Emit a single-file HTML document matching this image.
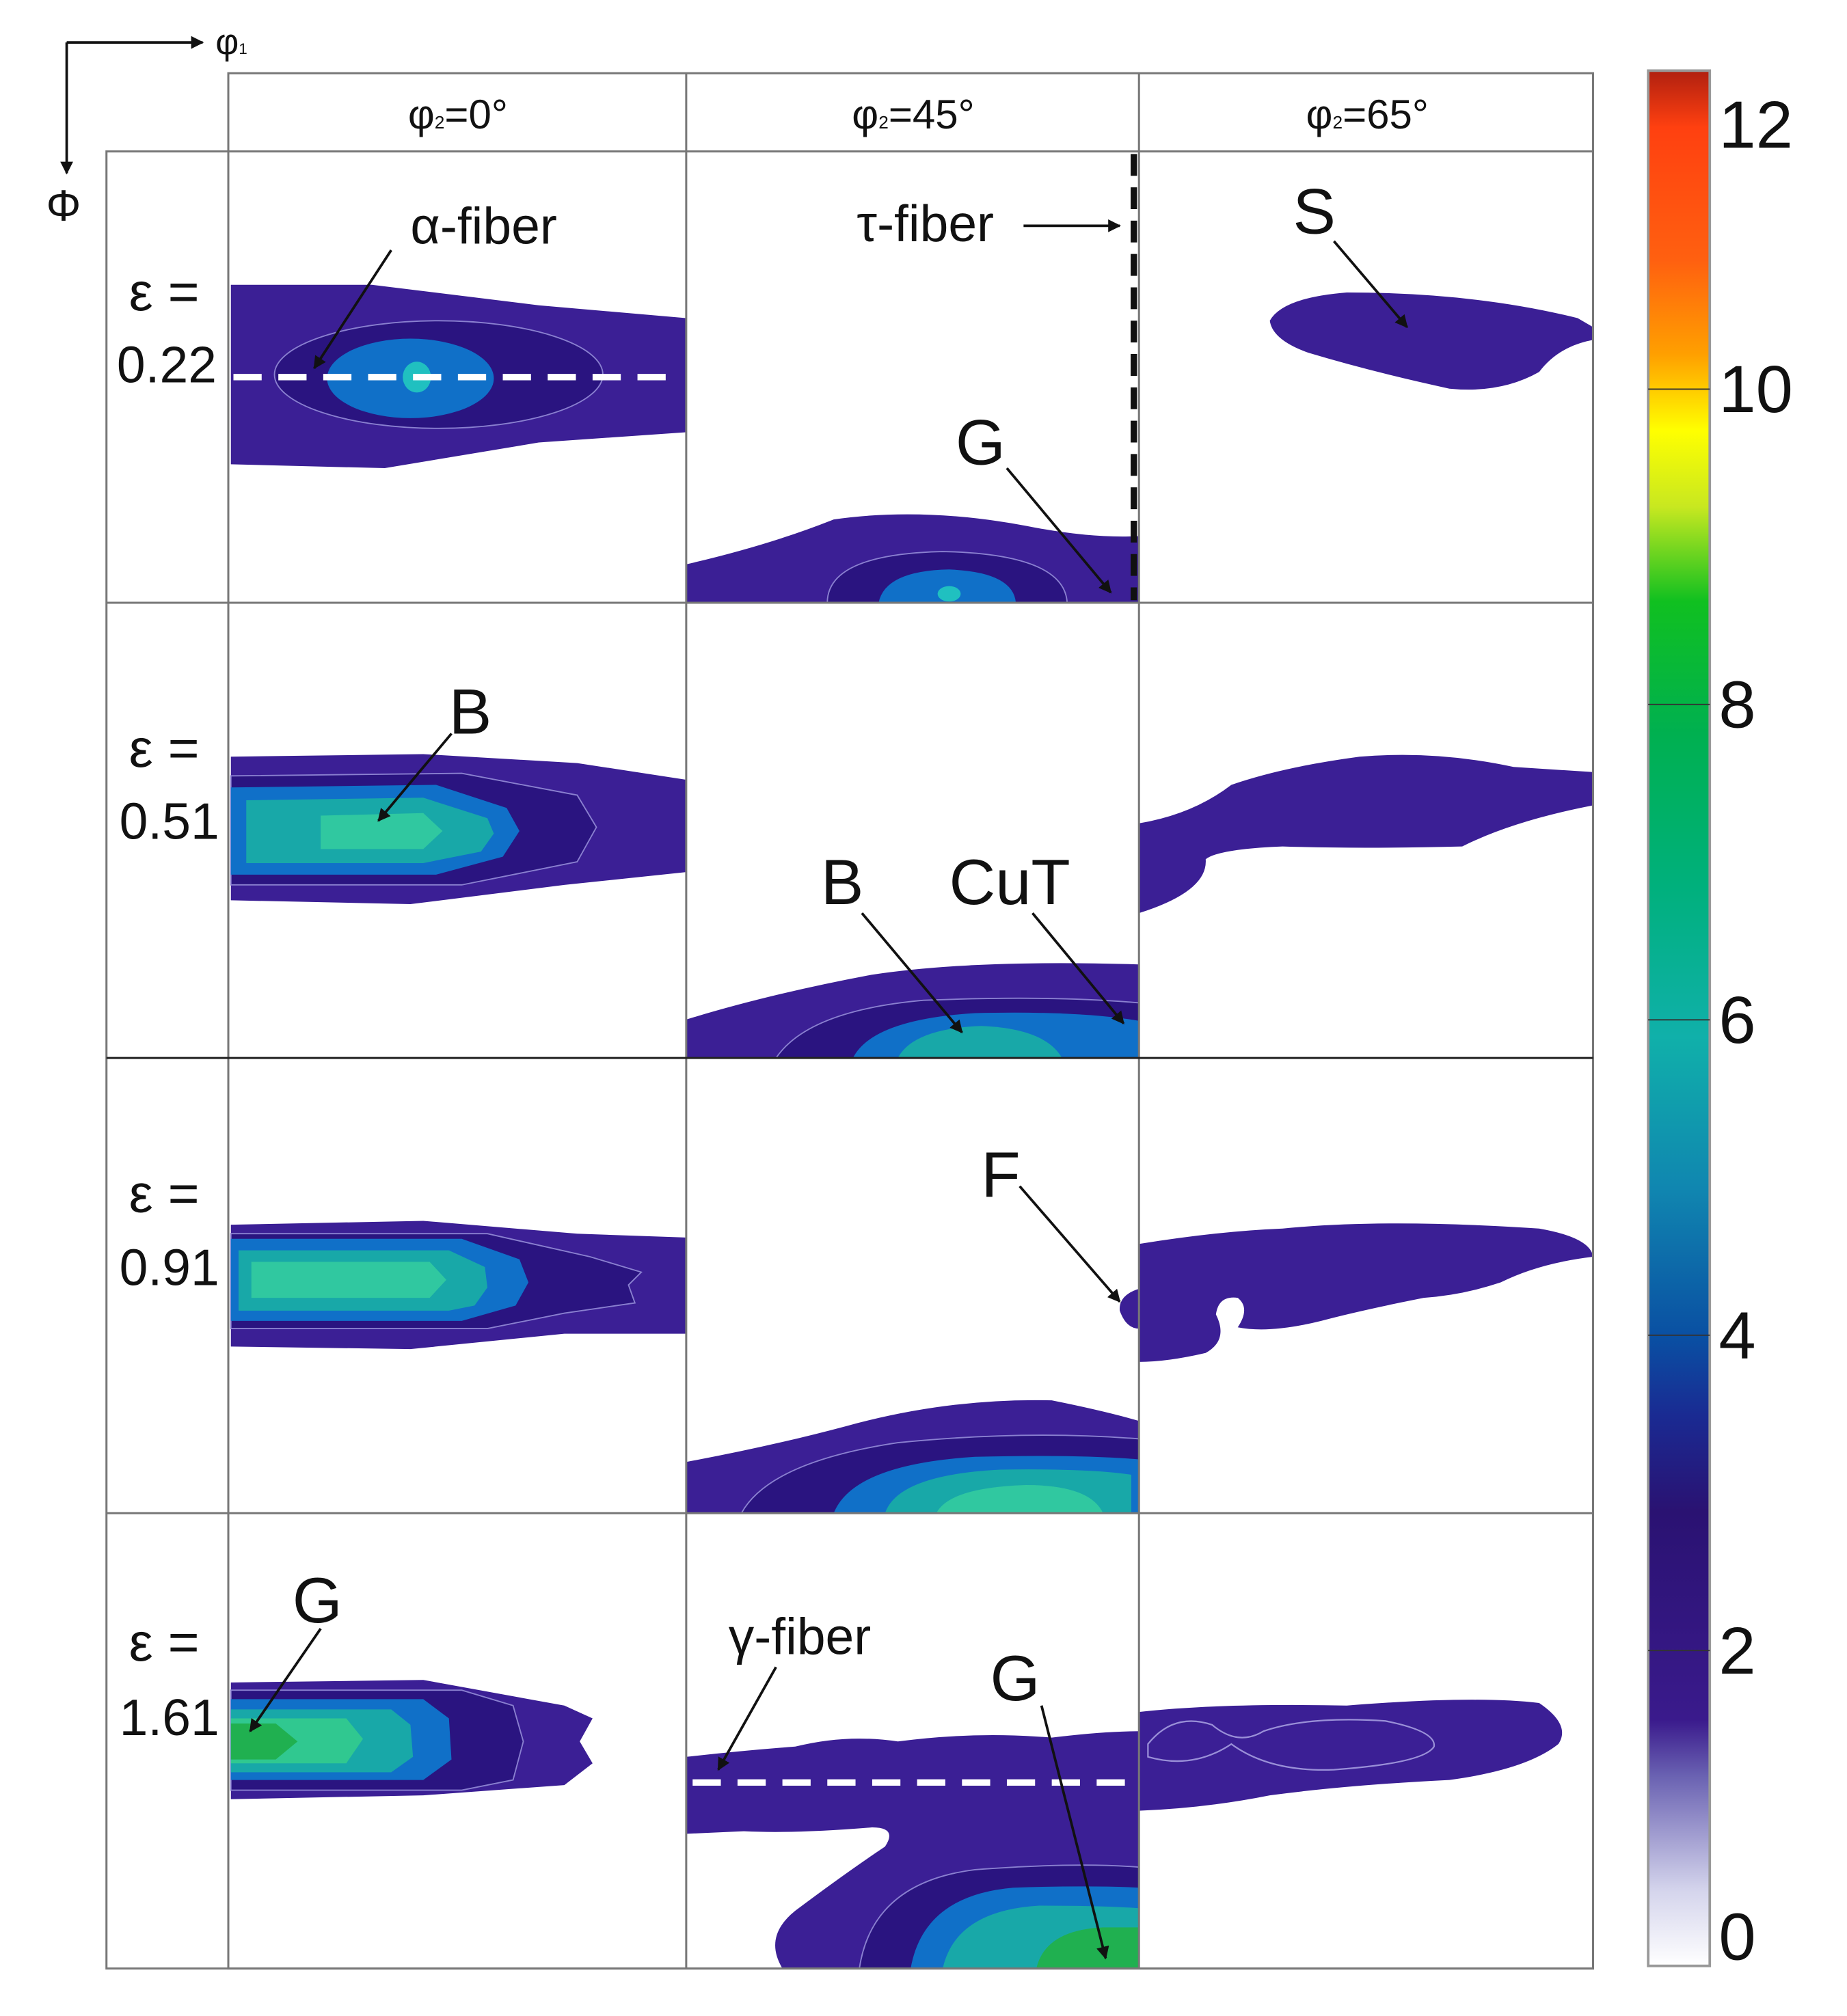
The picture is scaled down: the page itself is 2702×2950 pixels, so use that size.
<!DOCTYPE html>
<html><head><meta charset="utf-8"><style>
html,body{margin:0;padding:0;background:#fff}
svg{display:block}
text{font-family:"Liberation Sans",sans-serif;fill:#111}
</style></head><body>
<svg width="2702" height="2950" viewBox="0 0 1440 1572" xmlns="http://www.w3.org/2000/svg">
<defs>
<linearGradient id="cb" x1="0" y1="1" x2="0" y2="0">
<stop offset="0" stop-color="#ffffff"/>
<stop offset="0.04" stop-color="#d4d4ec"/>
<stop offset="0.1" stop-color="#6a62b2"/>
<stop offset="0.13" stop-color="#3a1a8c"/>
<stop offset="0.24" stop-color="#2a1272"/>
<stop offset="0.29" stop-color="#1a2a92"/>
<stop offset="0.33" stop-color="#0a4ea2"/>
<stop offset="0.41" stop-color="#1086b0"/>
<stop offset="0.49" stop-color="#10b0aa"/>
<stop offset="0.57" stop-color="#00b07c"/>
<stop offset="0.65" stop-color="#00b050"/>
<stop offset="0.72" stop-color="#10c020"/>
<stop offset="0.77" stop-color="#c8e820"/>
<stop offset="0.81" stop-color="#ffff00"/>
<stop offset="0.85" stop-color="#ffa000"/>
<stop offset="0.9" stop-color="#ff6010"/>
<stop offset="0.97" stop-color="#ff4010"/>
<stop offset="1" stop-color="#b02010"/>
</linearGradient>
<marker id="ah" markerWidth="10" markerHeight="10" refX="9" refY="5" orient="auto" markerUnits="userSpaceOnUse"><path d="M0,0 L10,5 L0,10 Z" fill="#111"/></marker>
</defs>

<!-- axis arrows top-left -->
<g>
<line x1="52" y1="33" x2="158" y2="33" stroke="#111" stroke-width="2" marker-end="url(#ah)"/>
<line x1="52" y1="33" x2="52" y2="135" stroke="#111" stroke-width="2" marker-end="url(#ah)"/>
<text x="168" y="42" font-size="28">φ<tspan font-size="12">1</tspan></text>
<text x="36" y="172" font-size="34">Φ</text>
</g>

<!-- contour blobs -->
<g stroke="none">
<!-- row1 col1 -->
<path fill="#3b1f95" d="M180,222 L290,222 L420,238 L535,248 L535,337 L420,345 L300,365 L180,362 Z"/>
<ellipse cx="342" cy="292" rx="128" ry="42" fill="#2a1480" stroke="#8a80d0" stroke-width="1"/>
<ellipse cx="320" cy="295" rx="65" ry="31" fill="#1070c8"/>
<ellipse cx="325" cy="294" rx="11" ry="12" fill="#20c0c0"/>
<!-- row1 col2 -->
<path fill="#3b1f95" d="M535,440 Q600,425 650,405 Q720,395 800,410 Q850,420 888,418 L888,470 L535,470 Z"/>
<path fill="#2a1480" stroke="#8a80d0" stroke-width="1" d="M645,470 Q645,432 735,430 Q830,432 832,470 Z"/>
<path fill="#1070c8" d="M685,470 Q690,445 740,444 Q790,446 792,470 Z"/>
<ellipse cx="740" cy="463" rx="9" ry="6" fill="#20c0c0"/>
<!-- row1 col3 -->
<path fill="#3b1f95" d="M990,250 Q1000,232 1050,228 Q1150,228 1230,248 L1242,255 L1242,265 Q1215,270 1200,290 Q1170,307 1130,303 Q1070,290 1020,275 Q992,265 990,250 Z"/>
<!-- row2 col1 -->
<path fill="#3b1f95" d="M180,590 L330,588 L450,595 L535,608 L535,680 L440,690 L320,705 L180,702 Z"/>
<path fill="#2a1480" stroke="#8a80d0" stroke-width="1" d="M180,605 L360,603 L450,620 L465,645 L450,672 L360,690 L180,690 Z"/>
<path fill="#1070c8" d="M180,614 L340,612 L395,630 L405,648 L392,668 L340,682 L180,682 Z"/>
<path fill="#18a8a8" d="M192,624 L330,622 L380,638 L385,650 L375,664 L330,673 L192,673 Z"/>
<path fill="#30c8a0" d="M250,636 L330,634 L345,648 L330,662 L250,662 Z"/>
<!-- row2 col2 -->
<path fill="#3b1f95" d="M535,795 Q600,775 680,760 Q760,748 888,752 L888,825 L535,825 Z"/>
<path fill="#2a1480" stroke="#8a80d0" stroke-width="1" d="M605,825 Q630,788 720,780 Q820,776 888,782 L888,825 Z"/>
<path fill="#1070c8" d="M665,825 Q680,795 760,790 Q840,788 888,796 L888,825 Z"/>
<path fill="#18a8a8" d="M700,825 Q712,802 765,800 Q815,802 828,825 Z"/>
<!-- row2 col3 -->
<path fill="#3b1f95" d="M888,642 Q930,635 960,612 Q1000,598 1060,590 Q1120,585 1180,598 L1242,602 L1242,628 Q1180,640 1140,660 Q1060,662 1000,660 Q950,662 940,670 Q942,695 888,712 Z"/>
<!-- row3 col1 -->
<path fill="#3b1f95" d="M180,955 L330,952 L450,962 L535,965 L535,1040 L440,1040 L320,1052 L180,1050 Z"/>
<path fill="#2a1480" stroke="#8a80d0" stroke-width="1" d="M180,962 L380,962 L460,980 L500,992 L490,1002 L495,1016 L440,1024 L380,1036 L180,1036 Z"/>
<path fill="#1070c8" d="M180,966 L360,966 L405,982 L412,1000 L402,1018 L360,1030 L180,1030 Z"/>
<path fill="#18a8a8" d="M186,975 L350,975 L378,988 L380,1004 L370,1018 L350,1022 L186,1022 Z"/>
<path fill="#30c8a0" d="M196,984 L335,984 L348,998 L335,1012 L196,1012 Z"/>
<!-- row3 col2 -->
<path fill="#3b1f95" d="M535,1140 Q600,1128 660,1112 Q740,1090 820,1092 Q860,1100 888,1108 L888,1180 L535,1180 Z"/>
<path fill="#2a1480" stroke="#8a80d0" stroke-width="1" d="M578,1180 Q600,1140 700,1125 Q800,1115 888,1122 L888,1180 Z"/>
<path fill="#1070c8" d="M650,1180 Q665,1142 760,1136 Q840,1134 888,1138 L888,1180 Z"/>
<path fill="#18a8a8" d="M690,1180 Q700,1150 780,1146 Q850,1145 882,1150 L882,1180 Z"/>
<path fill="#30c8a0" d="M730,1180 Q740,1160 800,1158 Q850,1158 860,1180 Z"/>
<path fill="#3b1f95" d="M888,1005 Q872,1010 873,1022 Q878,1036 888,1036 Z"/>
<!-- row3 col3 -->
<path fill="#3b1f95" d="M888,970 Q950,960 1000,958 Q1080,950 1200,958 Q1240,965 1242,980 Q1200,985 1170,1000 Q1140,1010 1110,1012 Q1060,1022 1030,1030 Q990,1040 965,1035 Q975,1020 965,1012 Q950,1010 948,1025 Q958,1045 940,1055 Q910,1062 888,1062 Z"/>
<!-- row4 col1 -->
<path fill="#3b1f95" d="M180,1312 L330,1310 L440,1330 L462,1340 L452,1358 L462,1375 L440,1392 L330,1400 L180,1403 Z"/>
<path fill="#2a1480" stroke="#8a80d0" stroke-width="1" d="M180,1318 L360,1318 L400,1330 L408,1358 L400,1388 L360,1396 L180,1396 Z"/>
<path fill="#1070c8" d="M180,1325 L330,1325 L350,1340 L352,1372 L330,1388 L180,1388 Z"/>
<path fill="#18a8a8" d="M180,1333 L305,1333 L320,1345 L322,1370 L305,1382 L180,1382 Z"/>
<path fill="#30c890" d="M180,1340 L270,1340 L283,1356 L270,1375 L180,1375 Z"/>
<path fill="#20b050" d="M180,1344 L215,1344 L232,1358 L215,1372 L180,1372 Z"/>
<!-- row4 col2 -->
<path fill="#3b1f95" d="M535,1370 Q580,1365 620,1362 Q660,1352 700,1358 Q760,1350 820,1355 Q860,1350 888,1350 L888,1535 L610,1535 Q595,1510 620,1490 Q660,1460 690,1440 Q700,1425 680,1425 Q620,1430 580,1428 L535,1430 Z"/>
<path fill="#2a1480" stroke="#8a80d0" stroke-width="1" d="M670,1535 Q680,1468 760,1458 Q840,1452 888,1456 L888,1535 Z"/>
<path fill="#1070c8" d="M710,1535 Q720,1478 790,1472 Q850,1470 888,1472 L888,1535 Z"/>
<path fill="#18a8a8" d="M735,1535 Q745,1490 810,1486 Q860,1486 888,1488 L888,1535 Z"/>
<path fill="#20b050" d="M808,1535 Q815,1505 860,1503 L888,1503 L888,1535 Z"/>
<!-- row4 col3 -->
<path fill="#3b1f95" d="M888,1335 Q950,1328 1050,1330 Q1150,1322 1200,1328 Q1225,1345 1215,1360 Q1190,1380 1130,1388 Q1050,1392 990,1400 Q940,1410 888,1412 Z"/>
<path fill="none" stroke="#9a90d8" stroke-width="1.2" d="M895,1360 Q915,1335 945,1345 Q965,1362 985,1350 Q1020,1338 1080,1342 Q1120,1350 1118,1362 Q1110,1375 1040,1380 Q990,1382 960,1360 Q930,1380 895,1370 Z"/>
</g>

<!-- grid frame -->
<g fill="none" stroke="#777" stroke-width="1.6">
<rect x="178" y="57" width="1064" height="1478"/>
<rect x="83" y="118" width="1159" height="1417"/>
<line x1="535" y1="57" x2="535" y2="1535"/>
<line x1="888" y1="57" x2="888" y2="1535"/>
<line x1="178" y1="118" x2="178" y2="1535"/>
<line x1="83" y1="470" x2="1242" y2="470"/>
<line x1="83" y1="825" x2="1242" y2="825" stroke="#222"/>
<line x1="83" y1="1180" x2="1242" y2="1180"/>
</g>

<!-- column headers -->
<g font-size="32">
<text x="357" y="100" text-anchor="middle" font-size="32">φ<tspan font-size="14">2</tspan>=0°</text>
<text x="712" y="100" text-anchor="middle" font-size="32">φ<tspan font-size="14">2</tspan>=45°</text>
<text x="1066" y="100" text-anchor="middle" font-size="32">φ<tspan font-size="14">2</tspan>=65°</text>
</g>

<!-- row labels -->
<g>
<text x="128" y="242" text-anchor="middle" font-size="42">ε =</text>
<text x="130" y="298" text-anchor="middle" font-size="40">0.22</text>
<text x="128" y="598" text-anchor="middle" font-size="42">ε =</text>
<text x="132" y="654" text-anchor="middle" font-size="40">0.51</text>
<text x="128" y="945" text-anchor="middle" font-size="42">ε =</text>
<text x="132" y="1002" text-anchor="middle" font-size="40">0.91</text>
<text x="128" y="1295" text-anchor="middle" font-size="42">ε =</text>
<text x="132" y="1353" text-anchor="middle" font-size="40">1.61</text>
</g>

<!-- fiber lines -->
<line x1="182" y1="294" x2="528" y2="294" stroke="#fff" stroke-width="5" stroke-dasharray="22,13"/>
<line x1="540" y1="1390" x2="882" y2="1390" stroke="#fff" stroke-width="5" stroke-dasharray="22,13"/>
<line x1="884" y1="120" x2="884" y2="468" stroke="#111" stroke-width="5" stroke-dasharray="17,9"/>

<!-- annotations -->
<g stroke="#111" stroke-width="2">
<text x="320" y="190" font-size="40" stroke="none">α-fiber</text>
<line x1="305" y1="195" x2="245" y2="287" marker-end="url(#ah)"/>
<text x="668" y="188" font-size="40" stroke="none">τ-fiber</text>
<line x1="798" y1="176" x2="873" y2="176" marker-end="url(#ah)"/>
<text x="745" y="362" font-size="50" stroke="none">G</text>
<line x1="785" y1="365" x2="866" y2="462" marker-end="url(#ah)"/>
<text x="1008" y="182" font-size="50" stroke="none">S</text>
<line x1="1040" y1="188" x2="1097" y2="255" marker-end="url(#ah)"/>
<text x="350" y="572" font-size="50" stroke="none">B</text>
<line x1="352" y1="572" x2="295" y2="640" marker-end="url(#ah)"/>
<text x="640" y="705" font-size="50" stroke="none">B</text>
<line x1="672" y1="712" x2="750" y2="805" marker-end="url(#ah)"/>
<text x="740" y="705" font-size="50" stroke="none">CuT</text>
<line x1="805" y1="712" x2="876" y2="798" marker-end="url(#ah)"/>
<text x="765" y="933" font-size="50" stroke="none">F</text>
<line x1="795" y1="925" x2="873" y2="1015" marker-end="url(#ah)"/>
<text x="228" y="1265" font-size="50" stroke="none">G</text>
<line x1="250" y1="1270" x2="195" y2="1350" marker-end="url(#ah)"/>
<text x="568" y="1290" font-size="40" stroke="none">γ-fiber</text>
<line x1="605" y1="1300" x2="560" y2="1380" marker-end="url(#ah)"/>
<text x="772" y="1326" font-size="50" stroke="none">G</text>
<line x1="812" y1="1330" x2="862" y2="1527" marker-end="url(#ah)"/>
</g>

<!-- colorbar -->
<g id="colorbar">
<rect x="1285" y="55" width="48" height="1478" fill="url(#cb)" stroke="#999" stroke-width="2"/>
</g>
</svg>
<script>
const cbTicks = [0, 2, 4, 6, 8, 10, 12];
const cbMax = 12.02;
const cbTop = 55, cbBottom = 1533;
function cbY(v){ return cbBottom - (v / cbMax) * (cbBottom - cbTop); }
const g = document.getElementById('colorbar');
const NS = 'http://www.w3.org/2000/svg';
cbTicks.forEach(function(v){
  const y = cbY(v);
  if (v > 0 && v < 12) {
    const l = document.createElementNS(NS, 'line');
    
    
    l.setAttribute('x1', 1285); l.setAttribute('x2', 1333);
    l.setAttribute('y1', y); l.setAttribute('y2', y);
    l.setAttribute('stroke', '#333'); l.setAttribute('stroke-width', '1');
    g.appendChild(l);
  }
  const t = document.createElementNS(NS, 'text');
  
  
  const ty = Math.min(Math.max(y, 97), 1510);
  t.setAttribute('x', 1340);
  t.setAttribute('y', ty + 18);
  t.setAttribute('font-size', '52');
  t.textContent = String(v);
  g.appendChild(t);
});
</script>
</body></html>
